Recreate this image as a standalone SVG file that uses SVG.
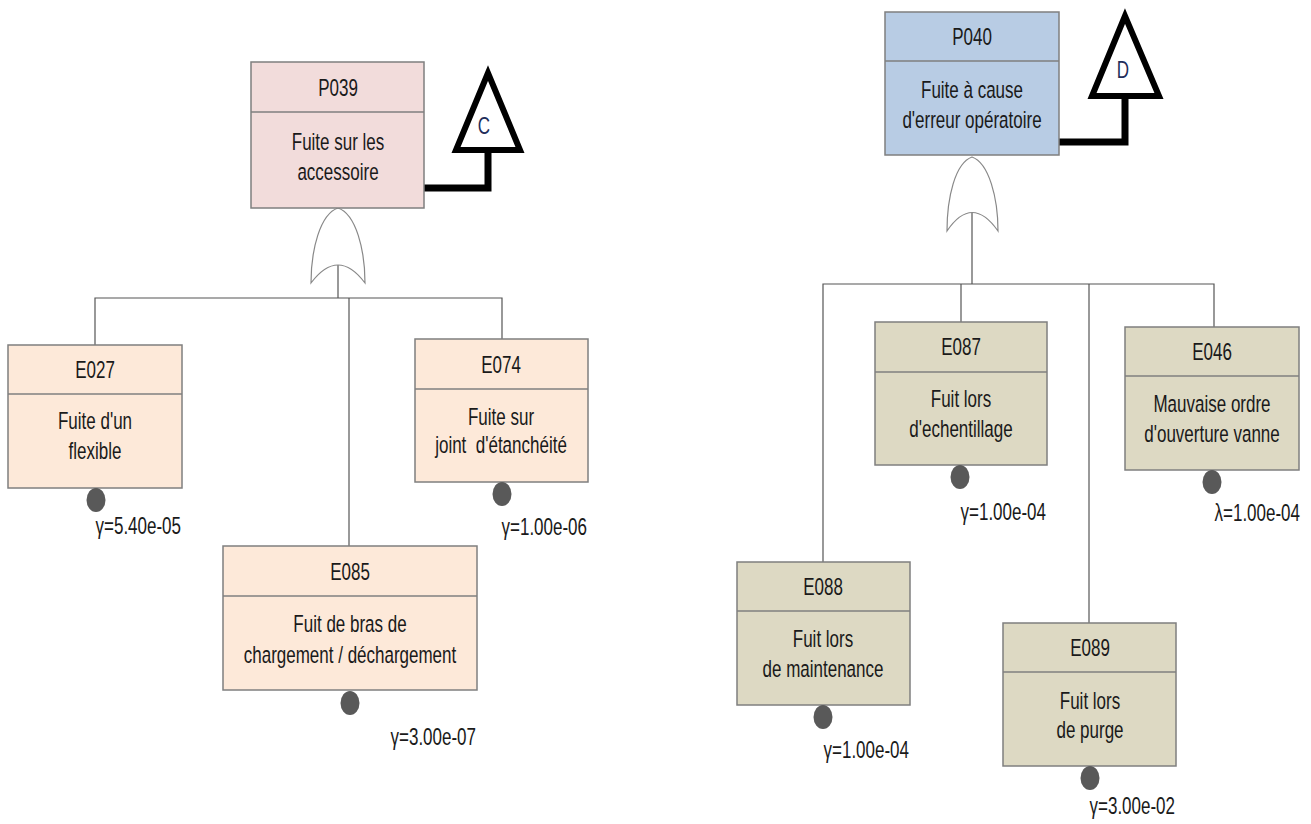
<svg xmlns="http://www.w3.org/2000/svg" width="1311" height="824" viewBox="0 0 1311 824">
<style>
.box{stroke:#7f7f7f;stroke-width:1.5}
.pA{fill:#f2dcdb}.eA{fill:#fde9d9}.pB{fill:#b8cce4}.eB{fill:#ddd9c3}
.div{stroke:#7f7f7f;stroke-width:1.5}
text{font-family:"Liberation Sans",Arial,sans-serif;font-size:17px;fill:#1a1a1a}
.c{text-anchor:middle}.r{text-anchor:end}
.dot{fill:#595959}
.wire{stroke:#555;stroke-width:1.2;fill:none}
.gate{stroke:#888;stroke-width:1.2;fill:#fff}
.tri{stroke:#000;stroke-width:6;fill:#fff;stroke-linejoin:miter}
.xfer{stroke:#000;stroke-width:7;fill:none}
.tl{fill:#1f2d5a}
</style>
<g id="connectors">
<line class="wire" x1="338" y1="250" x2="338" y2="298"/>
<polyline class="wire" points="95,345 95,298 502,298 502,339"/>
<line class="wire" x1="349" y1="298" x2="349" y2="546"/>
<line class="wire" x1="972" y1="200" x2="972" y2="284"/>
<polyline class="wire" points="823,562 823,284 1214,284 1214,327"/>
<line class="wire" x1="961" y1="284" x2="961" y2="322"/>
<line class="wire" x1="1089" y1="284" x2="1089" y2="623"/>
</g>
<g id="gate-or-1">
<path class="gate" d="M338,208 C320,214 311,250 311,283 Q338,247 365,283 C365,250 356,214 338,208 Z"/>
</g>
<g id="gate-or-2">
<path class="gate" d="M972,157 C955,163 947,198 947,231 Q972,194 998,231 C998,198 989,163 972,157 Z"/>
</g>
<g id="transfer-C">
<path class="xfer" d="M424,188 H488 V150"/>
<polygon class="tri" points="488,73 456,150 520,150"/>
<text class="c tl" transform="translate(484,134) scale(1,1.38)">C</text>
</g>
<g id="transfer-D">
<path class="xfer" d="M1059,142 H1125 V96"/>
<polygon class="tri" points="1125,16 1092,96 1159,96"/>
<text class="c tl" transform="translate(1123,78) scale(1,1.38)">D</text>
</g>
<g id="P039">
<rect class="box pA" x="251" y="62" width="173" height="146"/>
<line class="div" x1="251" y1="112" x2="424" y2="112"/>
<text class="c" transform="translate(338,96) scale(1,1.38)">P039</text>
<text class="c" transform="translate(338,150) scale(1,1.38)">Fuite sur les</text>
<text class="c" transform="translate(338,180) scale(1,1.38)">accessoire</text>
</g>
<g id="P040">
<rect class="box pB" x="885" y="12" width="174" height="143"/>
<line class="div" x1="885" y1="61" x2="1059" y2="61"/>
<text class="c" transform="translate(972,45) scale(1,1.38)">P040</text>
<text class="c" transform="translate(972,98) scale(1,1.38)">Fuite à cause</text>
<text class="c" transform="translate(972,128) scale(1,1.38)">d'erreur opératoire</text>
</g>
<g id="E027">
<rect class="box eA" x="8" y="345" width="174" height="143"/>
<line class="div" x1="8" y1="394" x2="182" y2="394"/>
<text class="c" transform="translate(95,378) scale(1,1.38)">E027</text>
<text class="c" transform="translate(95,429) scale(1,1.38)">Fuite d'un</text>
<text class="c" transform="translate(95,459) scale(1,1.38)">flexible</text>
<ellipse class="dot" cx="96" cy="500" rx="9.5" ry="12"/>
<text class="r" transform="translate(181,534) scale(1,1.38)">γ=5.40e-05</text>
</g>
<g id="E074">
<rect class="box eA" x="415" y="339" width="173" height="143"/>
<line class="div" x1="415" y1="389" x2="588" y2="389"/>
<text class="c" transform="translate(501,373) scale(1,1.38)">E074</text>
<text class="c" transform="translate(501,425) scale(1,1.38)">Fuite sur</text>
<text class="c" transform="translate(501,453) scale(1,1.38)" xml:space="preserve">joint  d'étanchéité</text>
<ellipse class="dot" cx="502" cy="494" rx="9.5" ry="12"/>
<text class="r" transform="translate(587,535) scale(1,1.38)">γ=1.00e-06</text>
</g>
<g id="E085">
<rect class="box eA" x="223" y="546" width="254" height="144"/>
<line class="div" x1="223" y1="596" x2="477" y2="596"/>
<text class="c" transform="translate(350,580) scale(1,1.38)">E085</text>
<text class="c" transform="translate(350,632) scale(1,1.38)">Fuit de bras de</text>
<text class="c" transform="translate(350,663) scale(1,1.38)">chargement / déchargement</text>
<ellipse class="dot" cx="350" cy="703" rx="9.5" ry="12"/>
<text class="r" transform="translate(476,745) scale(1,1.38)">γ=3.00e-07</text>
</g>
<g id="E087">
<rect class="box eB" x="875" y="322" width="172" height="143"/>
<line class="div" x1="875" y1="372" x2="1047" y2="372"/>
<text class="c" transform="translate(961,355) scale(1,1.38)">E087</text>
<text class="c" transform="translate(961,407) scale(1,1.38)">Fuit lors</text>
<text class="c" transform="translate(961,437) scale(1,1.38)">d'echentillage</text>
<ellipse class="dot" cx="960" cy="477" rx="9.5" ry="12"/>
<text class="r" transform="translate(1046,520) scale(1,1.38)">γ=1.00e-04</text>
</g>
<g id="E046">
<rect class="box eB" x="1125" y="327" width="174" height="143"/>
<line class="div" x1="1125" y1="376" x2="1299" y2="376"/>
<text class="c" transform="translate(1212,360) scale(1,1.38)">E046</text>
<text class="c" transform="translate(1212,412) scale(1,1.38)">Mauvaise ordre</text>
<text class="c" transform="translate(1212,442) scale(1,1.38)">d'ouverture vanne</text>
<ellipse class="dot" cx="1212" cy="482" rx="9.5" ry="12"/>
<text class="r" transform="translate(1300,521) scale(1,1.38)">λ=1.00e-04</text>
</g>
<g id="E088">
<rect class="box eB" x="737" y="562" width="173" height="143"/>
<line class="div" x1="737" y1="611" x2="910" y2="611"/>
<text class="c" transform="translate(823,595) scale(1,1.38)">E088</text>
<text class="c" transform="translate(823,647) scale(1,1.38)">Fuit lors</text>
<text class="c" transform="translate(823,677) scale(1,1.38)">de maintenance</text>
<ellipse class="dot" cx="823" cy="717" rx="9.5" ry="12"/>
<text class="r" transform="translate(909,758) scale(1,1.38)">γ=1.00e-04</text>
</g>
<g id="E089">
<rect class="box eB" x="1003" y="623" width="173" height="143"/>
<line class="div" x1="1003" y1="672" x2="1176" y2="672"/>
<text class="c" transform="translate(1090,656) scale(1,1.38)">E089</text>
<text class="c" transform="translate(1090,709) scale(1,1.38)">Fuit lors</text>
<text class="c" transform="translate(1090,738) scale(1,1.38)">de purge</text>
<ellipse class="dot" cx="1090" cy="778" rx="9.5" ry="12"/>
<text class="r" transform="translate(1175,814) scale(1,1.38)">γ=3.00e-02</text>
</g>
</svg>
